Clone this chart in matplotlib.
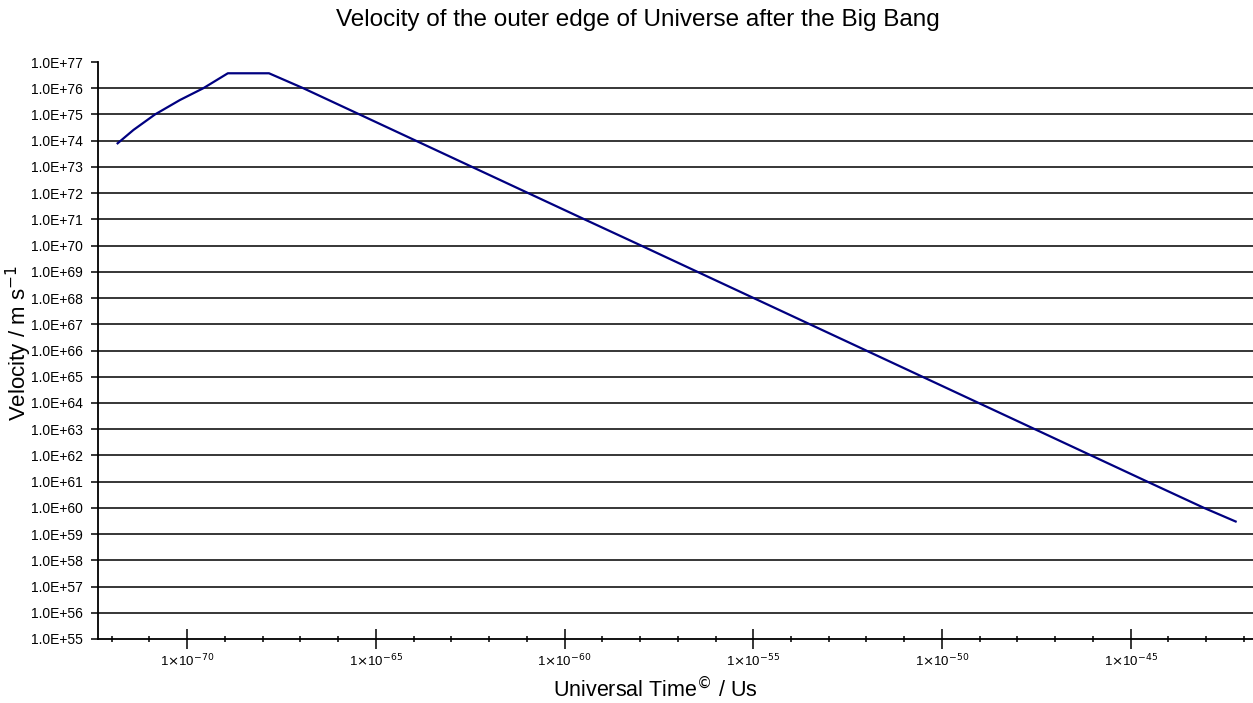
import numpy as np
import matplotlib
matplotlib.use("Agg")
import matplotlib.pyplot as plt
from matplotlib.ticker import FixedLocator, FuncFormatter, NullFormatter

# data (log10 values)
log_time = [-71.84, -71.42, -70.85, -70.19, -69.57, -68.92, -67.83, -66.92,
            -65.43, -63.94, -62.45, -60.96, -59.47, -57.97, -56.48, -54.99,
            -53.50, -52.01, -50.52, -49.03, -47.54, -46.05, -44.56, -43.06,
            -42.22]
log_velocity = [73.90, 74.41, 75.0, 75.55, 76.0, 76.57, 76.57, 76.0,
                75.0, 74.0, 73.0, 72.0, 71.0, 70.0, 69.0, 68.0,
                67.0, 66.0, 65.0, 64.0, 63.0, 62.0, 61.0, 60.0,
                59.48]
major_exps = [-70, -65, -60, -55, -50, -45]
y_exps = list(range(55, 78))

t = 10.0 ** np.array(log_time)
v = 10.0 ** np.array(log_velocity)

plt.rcParams['font.family'] = ['Liberation Sans', 'DejaVu Sans']

fig = plt.figure(figsize=(12.53, 7.03), dpi=100)
ax = fig.add_axes([98 / 1253, 1 - 639 / 703, 1 - 98 / 1253, (639 - 62) / 703])

ax.plot(t, v, color='#000080', lw=1.6, solid_joinstyle='round')

ax.set_xscale('log')
ax.set_yscale('log')
ax.set_xlim(10.0 ** -72.36, 10.0 ** -41.76)
ax.set_ylim(1e55, 1e77)

# horizontal gridlines at each decade (not at the top)
for e in y_exps[1:-1]:
    ax.axhline(10.0 ** e, color='black', lw=1.1, zorder=0)

ax.yaxis.set_major_locator(FixedLocator([10.0 ** e for e in y_exps]))
ax.yaxis.set_minor_locator(FixedLocator([]))
ax.yaxis.set_major_formatter(FuncFormatter(lambda val, pos: "1.0E+%d" % round(np.log10(val))))
ax.tick_params(axis='y', which='major', direction='out', length=5, width=1.1,
               labelsize=10, pad=6)

ax.xaxis.set_major_locator(FixedLocator([10.0 ** e for e in major_exps]))
ax.xaxis.set_minor_locator(FixedLocator([10.0 ** e for e in range(-72, -41) if e not in major_exps]))
ax.xaxis.set_major_formatter(FuncFormatter(lambda val, pos: r"1$\times$10$^{%d}$" % round(np.log10(val))))
ax.xaxis.set_minor_formatter(NullFormatter())
ax.tick_params(axis='x', which='major', direction='inout', length=14, width=1.1,
               labelsize=9.5, pad=3)
ax.tick_params(axis='x', which='minor', direction='inout', length=5, width=1.1)

for side in ['top', 'right']:
    ax.spines[side].set_visible(False)
for side in ['left', 'bottom']:
    ax.spines[side].set_linewidth(1.3)

fig.text(638 / 1253, 1 - 20 / 703, 'Velocity of the outer edge of Universe after the Big Bang',
         ha='center', va='center', fontsize=17.5)
fig.text(655 / 1253, 1 - 689 / 703, 'Universal Time$^{\u00a9}$ / Us', ha='center', va='center',
         fontsize=15.5)
fig.text(19 / 1253, 1 - 343 / 703, 'Velocity / m s$^{-1}$', ha='center', va='center',
         rotation=90, fontsize=16)

fig.savefig('out.png', dpi=100)
